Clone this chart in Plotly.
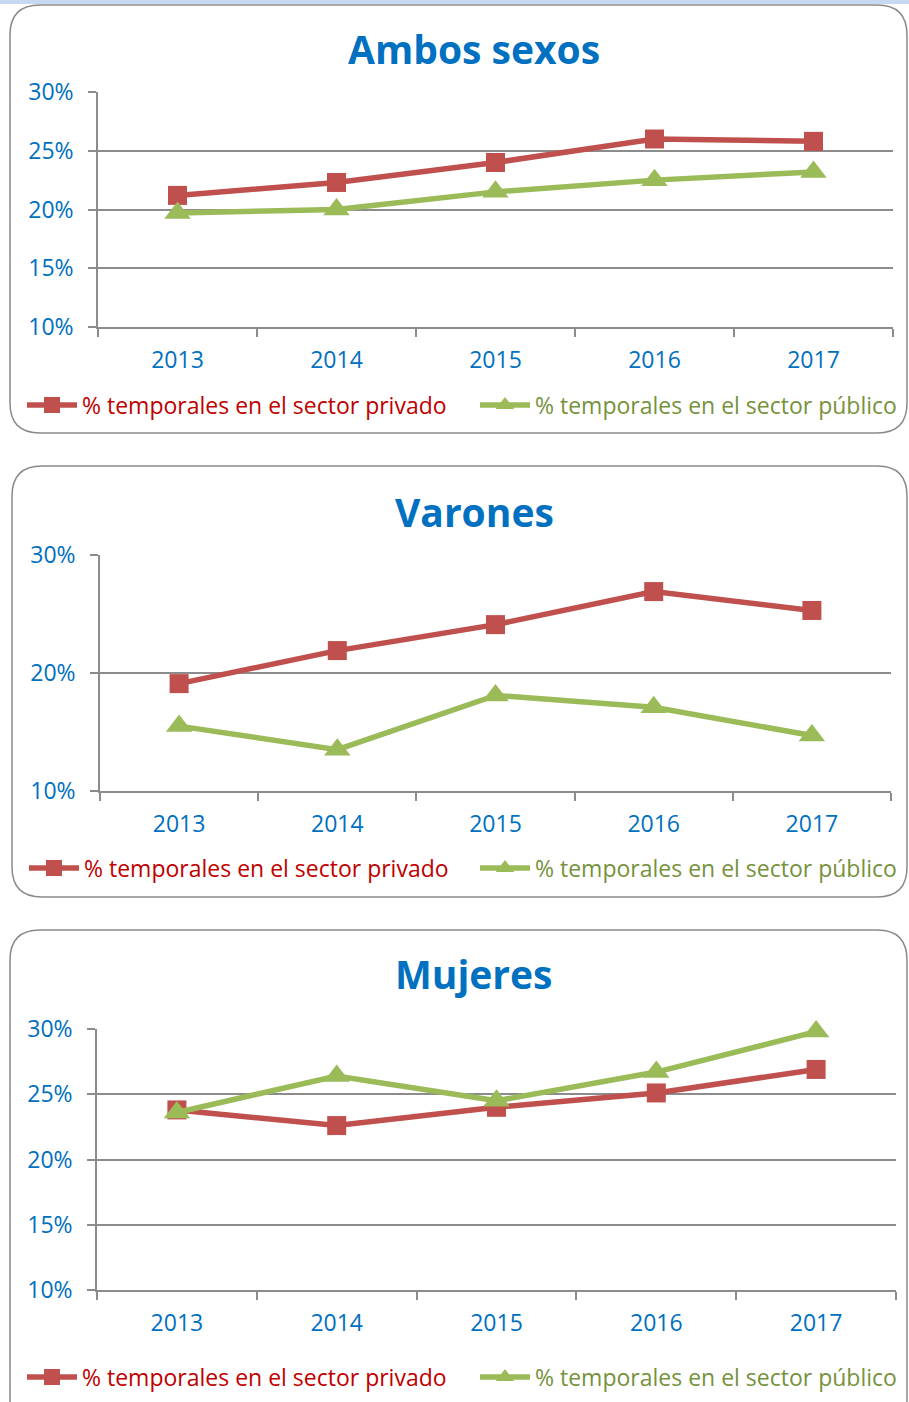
import plotly.graph_objects as go

years = ["2013", "2014", "2015", "2016", "2017"]
ambos_privado = [21.2, 22.3, 24.0, 26.0, 25.8]
ambos_publico = [19.7, 20.0, 21.5, 22.5, 23.2]
varones_privado = [19.1, 21.9, 24.1, 26.9, 25.3]
varones_publico = [15.5, 13.5, 18.1, 17.1, 14.7]
mujeres_privado = [23.8, 22.6, 24.0, 25.1, 26.9]
mujeres_publico = [23.6, 26.4, 24.5, 26.7, 29.8]
panel_titles = ["Ambos sexos", "Varones", "Mujeres"]
name_privado = "% temporales en el sector privado"
name_publico = "% temporales en el sector público"

W, H = 909, 1402
BLUE = "#0070C0"
RED_LINE = "#C0504D"
GREEN_LINE = "#9BBB59"
RED_TEXT = "#C00000"
GREEN_TEXT = "#76923C"
GRID = "#8C8C8C"
FONT = "Open Sans"

def px(x):
    return x / W

def py(y):
    return 1 - y / H

panels = [
    dict(title=panel_titles[0], priv=ambos_privado, pub=ambos_publico,
         x0=98, x1=893, y0=92, y1=327, dtick=5, ty=48, ly=405, lx=(22, 475),
         bl=10, bt=5, bb=433),
    dict(title=panel_titles[1], priv=varones_privado, pub=varones_publico,
         x0=100, x1=891, y0=555, y1=791, dtick=10, ty=511, ly=868, lx=(24, 475),
         bl=12, bt=466, bb=897),
    dict(title=panel_titles[2], priv=mujeres_privado, pub=mujeres_publico,
         x0=97, x1=896, y0=1029, y1=1290, dtick=5, ty=973, ly=1377, lx=(22, 475),
         bl=10, bt=930, bb=1430),
]

fig = go.Figure()
shapes = []
annotations = []
layout_extra = {}

# thin light-blue strip at the top of the page
shapes.append(dict(type="rect", xref="paper", yref="paper", x0=0, x1=1,
                   y0=py(4), y1=1, line=dict(width=0), fillcolor="#C6D9F1",
                   layer="below"))

def rounded(l, t, r, b, rad):
    return (f"M {px(l + rad)},{py(t)} L {px(r - rad)},{py(t)} "
            f"Q {px(r)},{py(t)} {px(r)},{py(t + rad)} "
            f"L {px(r)},{py(b - rad)} Q {px(r)},{py(b)} {px(r - rad)},{py(b)} "
            f"L {px(l + rad)},{py(b)} Q {px(l)},{py(b)} {px(l)},{py(b - rad)} "
            f"L {px(l)},{py(t + rad)} Q {px(l)},{py(t)} {px(l + rad)},{py(t)} Z")

def legend_cfg(x, y):
    return dict(x=px(x), y=py(y), xanchor="left", yanchor="middle",
                orientation="h", bgcolor="rgba(0,0,0,0)", itemwidth=50,
                font=dict(family=FONT, size=23), itemclick=False,
                itemdoubleclick=False)

leg_idx = 0
for i, p in enumerate(panels):
    n = "" if i == 0 else str(i + 1)
    xa, ya = "x" + n, "y" + n
    leg_a = "legend" + ("" if leg_idx == 0 else str(leg_idx + 1))
    leg_b = "legend" + str(leg_idx + 2)
    leg_idx += 2
    shapes.append(dict(type="path", xref="paper", yref="paper",
                       path=rounded(p["bl"], p["bt"], 907, p["bb"], 30),
                       line=dict(color="#8A8A8A", width=1.5), layer="below"))
    fig.add_trace(go.Scatter(x=years, y=p["priv"], xaxis=xa, yaxis=ya,
                             mode="lines+markers", legend=leg_a, cliponaxis=False,
                             name=f"<span style='color:{RED_TEXT}'>{name_privado}</span>",
                             line=dict(color=RED_LINE, width=5.5),
                             marker=dict(symbol="square", size=19, color=RED_LINE)))
    fig.add_trace(go.Scatter(x=years, y=p["pub"], xaxis=xa, yaxis=ya,
                             mode="lines+markers", legend=leg_b, cliponaxis=False,
                             name=f"<span style='color:{GREEN_TEXT}'>{name_publico}</span>",
                             line=dict(color=GREEN_LINE, width=5.5),
                             marker=dict(symbol="triangle-up", size=23, color=GREEN_LINE)))
    layout_extra["xaxis" + n] = dict(
        domain=[px(p["x0"]), px(p["x1"])], anchor=ya, type="category",
        range=[-0.5, 4.5], tickson="boundaries", ticks="outside", ticklen=8,
        tickcolor=GRID, tickwidth=1.5, showgrid=False, showline=True,
        linecolor=GRID, linewidth=1.5, ticklabelstandoff=12,
        tickfont=dict(family=FONT, size=23, color=BLUE), fixedrange=True)
    layout_extra["yaxis" + n] = dict(
        domain=[py(p["y1"]), py(p["y0"])], anchor=xa, range=[10, 30],
        dtick=p["dtick"], tick0=10, ticksuffix="%", ticks="outside", ticklen=8,
        tickcolor=GRID, tickwidth=1.5, showgrid=True, gridcolor=GRID,
        gridwidth=1.5, showline=True, linecolor=GRID, linewidth=1.5,
        zeroline=False, ticklabelstandoff=10,
        tickfont=dict(family=FONT, size=23, color=BLUE), fixedrange=True)
    annotations.append(dict(xref="paper", yref="paper", x=px(474), y=py(p["ty"]),
                            text=f"<b>{p['title']}</b>", showarrow=False,
                            xanchor="center", yanchor="middle",
                            font=dict(family=FONT, size=39, color=BLUE)))
    layout_extra[leg_a] = legend_cfg(p["lx"][0], p["ly"])
    layout_extra[leg_b] = legend_cfg(p["lx"][1], p["ly"])

fig.update_layout(
    width=W, height=H, margin=dict(l=0, r=0, t=0, b=0, autoexpand=False),
    paper_bgcolor="white", plot_bgcolor="white", hovermode=False,
    shapes=shapes, annotations=annotations, showlegend=True,
    **layout_extra)

fig.write_html("out.html", config={"displayModeBar": False},
               post_script="document.body.style.margin='0px';")
